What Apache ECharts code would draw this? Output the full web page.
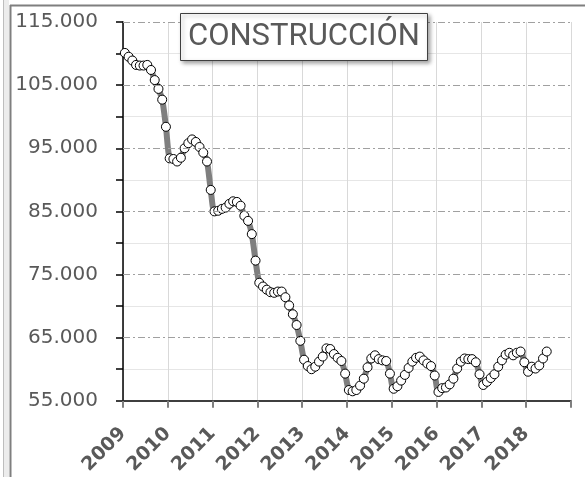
<!DOCTYPE html>
<html>
<head>
<meta charset="utf-8">
<title>Construcción</title>
<script src="https://cdn.jsdelivr.net/npm/echarts@6/dist/echarts.min.js"></script>
<style>
  html, body { margin: 0; padding: 0; background: #fff; }
  #main { width: 585px; height: 477px; }
</style>
</head>
<body>
<div id="main"></div>
<script>
// datos mensuales (miles), enero 2009 - junio 2018
var y2009 = [110.1, 109.5, 108.9, 108.2, 108.1, 108.1, 108.2, 107.4, 105.8, 104.4, 102.7, 98.4];
var y2010 = [93.4, 93.3, 92.9, 93.5, 95.0, 95.8, 96.4, 96.0, 95.2, 94.3, 92.9, 88.4];
var y2011 = [85.0, 85.1, 85.4, 85.6, 86.2, 86.6, 86.5, 85.9, 84.3, 83.5, 81.4, 77.2];
var y2012 = [73.7, 73.1, 72.6, 72.2, 72.1, 72.3, 72.3, 71.4, 70.1, 68.7, 67.0, 64.5];
var y2013 = [61.5, 60.5, 60.0, 60.4, 61.2, 62.0, 63.3, 63.2, 62.4, 61.8, 61.3, 59.3];
var y2014 = [56.7, 56.5, 56.7, 57.4, 58.5, 60.3, 61.7, 62.2, 61.6, 61.4, 61.3, 59.3];
var y2015 = [56.9, 57.3, 58.2, 59.1, 60.2, 61.2, 61.8, 62.0, 61.4, 60.9, 60.5, 59.0];
var y2016 = [56.4, 57.0, 57.1, 57.6, 58.5, 60.1, 61.2, 61.7, 61.6, 61.6, 61.1, 59.2];
var y2017 = [57.5, 58.0, 58.6, 59.2, 60.4, 61.4, 62.3, 62.6, 62.2, 62.6, 62.8, 61.1];
var y2018 = [59.6, 60.4, 60.1, 60.6, 61.7, 62.8];

var years = [2009, 2010, 2011, 2012, 2013, 2014, 2015, 2016, 2017, 2018];
var yLabels = [55, 65, 75, 85, 95, 105, 115];     // etiquetas del eje
var dashLines = [65, 75, 85, 95, 105, 115];       // lineas punto-raya

// juntar todo en una serie: x = mes (centro del mes)
var all = [y2009, y2010, y2011, y2012, y2013, y2014, y2015, y2016, y2017, y2018];
var points = [];
var m = 0;
for (var i = 0; i < all.length; i++) {
    for (var j = 0; j < all[i].length; j++) {
        points.push([m + 0.5, all[i][j]]);
        m++;
    }
    if (all[i].length < 12) m += 12 - all[i].length;
}

var myChart = echarts.init(document.getElementById('main'));

var option = {
    animation: false,
    backgroundColor: '#fff',
    title: {
        text: 'CONSTRUCCIÓN',
        left: 180,
        top: 13,
        padding: [7, 8, 7, 8],
        backgroundColor: '#fff',
        borderColor: '#404040',
        borderWidth: 1,
        shadowColor: 'rgba(0,0,0,0.35)',
        shadowBlur: 4,
        shadowOffsetX: 2,
        shadowOffsetY: 2,
        textStyle: {
            fontFamily: 'Roboto, sans-serif',
            fontSize: 31,
            fontWeight: 'normal',
            color: '#595959',
            lineHeight: 34
        },
        z: 10
    },
    grid: { left: 123, right: 14, top: 22, bottom: 75 },
    xAxis: {
        type: 'value',
        min: 0,
        max: 120,
        interval: 12,
        axisLine: { show: true, lineStyle: { color: '#000', width: 1.5 } },
        axisTick: { show: true, length: 7, lineStyle: { color: '#7f7f7f', width: 2 } },
        splitLine: { show: true, lineStyle: { color: '#d9d9d9', width: 1 } },
        axisLabel: {
            rotate: 45,
            margin: 30,
            fontFamily: '"DejaVu Sans", sans-serif',
            fontSize: 19,
            fontWeight: 'bold',
            color: '#595959',
            formatter: function (v) {
                var k = Math.round(v / 12);
                return k < years.length ? String(years[k]) : '';
            }
        }
    },
    yAxis: {
        type: 'value',
        min: 55,
        max: 115,
        interval: 5,
        axisLine: { show: true, lineStyle: { color: '#000', width: 1.5 } },
        axisTick: { show: true, length: 7, lineStyle: { color: '#000', width: 1.5 } },
        splitLine: { show: true, lineStyle: { color: ['rgba(0,0,0,0)', '#e6e6e6'], width: 1 } },
        axisLabel: {
            margin: 25,
            fontFamily: '"DejaVu Sans", sans-serif',
            fontSize: 20,
            color: '#595959',
            formatter: function (v) {
                return yLabels.indexOf(v) >= 0 ? v.toFixed(3) : '';
            }
        }
    },
    graphic: [
        { type: 'rect', shape: { x: 3, y: 0, width: 6, height: 477 }, style: { fill: '#ececec' }, silent: true },
        { type: 'line', shape: { x1: 3.5, y1: 0, x2: 3.5, y2: 477 }, style: { stroke: '#bdbdbd', lineWidth: 1 }, silent: true },
        { type: 'line', shape: { x1: 10.5, y1: 5, x2: 10.5, y2: 477 }, style: { stroke: '#7f7f7f', lineWidth: 2 }, silent: true },
        { type: 'line', shape: { x1: 10, y1: 5.5, x2: 585, y2: 5.5 }, style: { stroke: '#7f7f7f', lineWidth: 2 }, silent: true }
    ],
    series: [{
        name: 'Construcción',
        type: 'line',
        data: points,
        smooth: 0.3,
        showSymbol: true,
        showAllSymbol: true,
        symbol: 'circle',
        symbolSize: 9,
        lineStyle: { color: '#7f7f7f', width: 6 },
        itemStyle: { color: '#fff', borderColor: '#000', borderWidth: 1 },
        markLine: {
            silent: true,
            symbol: 'none',
            label: { show: false },
            lineStyle: { color: '#a0a0a0', width: 1, type: [7, 3, 2, 3] },
            data: dashLines.map(function (t) { return { yAxis: t }; })
        },
        z: 3
    }]
};

myChart.setOption(option);
</script>
</body>
</html>
